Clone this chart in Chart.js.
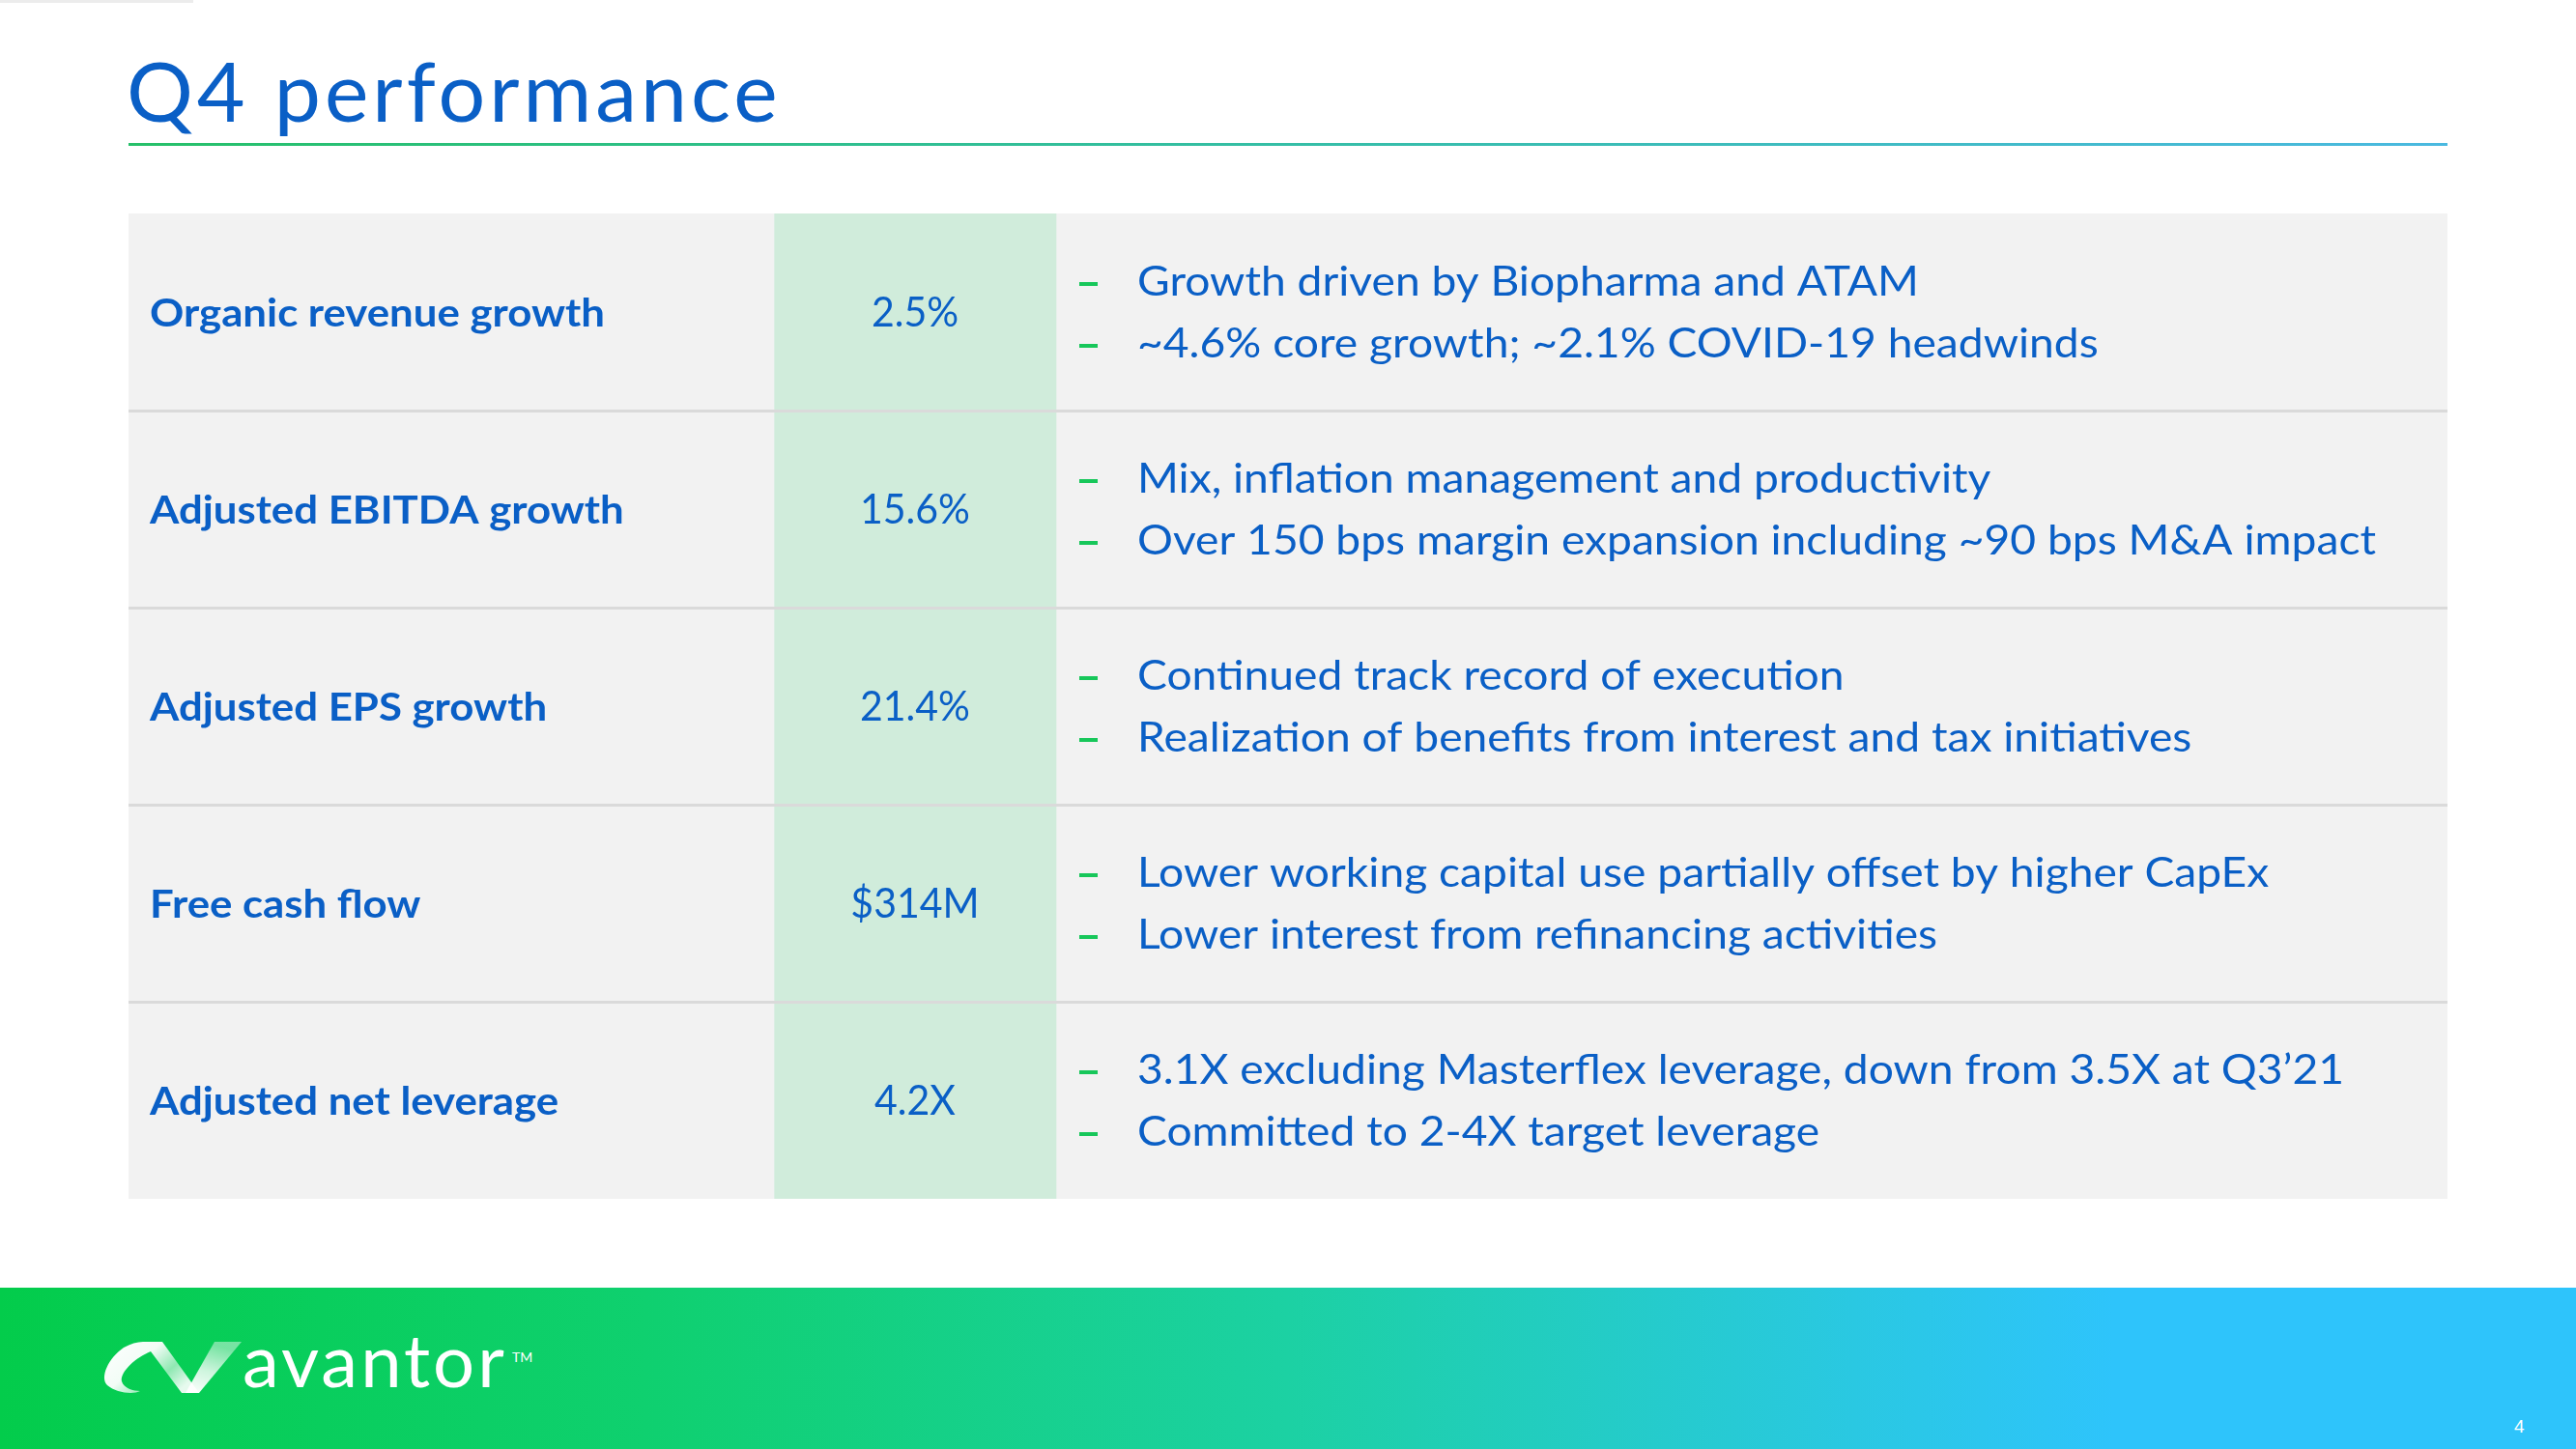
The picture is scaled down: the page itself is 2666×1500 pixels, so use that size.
<!DOCTYPE html>
<html>
<head>
<meta charset="utf-8">
<script src="https://cdn.jsdelivr.net/npm/chart.js@4.4.1/dist/chart.umd.min.js"></script>
<style>
  html, body { margin: 0; padding: 0; background: #fff; }
  body { width: 2666px; height: 1500px; position: relative; overflow: hidden; font-family: Lato, sans-serif; }
  .abs { position: absolute; }
  #topTick { left: 0; top: 0; width: 200px; height: 3px; background: #ececec; }
  #title { left: 131px; top: 50px; font-size: 86px; line-height: 1; color: #0a5fc6; white-space: nowrap; letter-spacing: 4px; }
  #titleRule { left: 133px; top: 148px; width: 2400px; height: 3px; background: linear-gradient(90deg, #26c069 0%, #35bea6 50%, #4ab9e0 100%); }
  #tableBox { left: 133px; top: 221px; width: 2400px; height: 1020px; }
  #footer { left: 0; top: 1333px; width: 2666px; height: 167px;
    background: linear-gradient(90deg, #03cc4b 0%, #0fd06f 25%, #1cd1a3 50%, #2ac8e2 72%, #2ec4fb 82%, #2ec4fb 100%); }
  #brand { left: 251px; top: 1369px; font-size: 76px; line-height: 1; color: #fff; white-space: nowrap; letter-spacing: 3px; }
  #tm { left: 530px; top: 1398px; font-size: 14px; line-height: 1; color: #fff; }
  #pageNo { left: 2602px; top: 1467px; font-family: "Liberation Sans", Arial, sans-serif; font-size: 19px; line-height: 1; color: #fff; }
</style>
</head>
<body>
<div id="topTick" class="abs"></div>
<div id="title" class="abs">Q4 performance</div>
<div id="titleRule" class="abs"></div>
<div id="tableBox" class="abs"><canvas id="perfTable"></canvas></div>

<div id="footer" class="abs"></div>
<svg class="abs" style="left:100px;top:1380px" width="160" height="70" viewBox="0 0 160 70">
  <defs>
    <linearGradient id="ribA" x1="0" y1="0" x2="1" y2="0.6">
      <stop offset="0" stop-color="#ffffff" stop-opacity="1"/>
      <stop offset="0.45" stop-color="#ffffff" stop-opacity="0.95"/>
      <stop offset="0.75" stop-color="#ffffff" stop-opacity="0.55"/>
      <stop offset="1" stop-color="#ffffff" stop-opacity="0.9"/>
    </linearGradient>
    <linearGradient id="ribB" x1="0" y1="1" x2="0.3" y2="0">
      <stop offset="0" stop-color="#ffffff" stop-opacity="1"/>
      <stop offset="0.5" stop-color="#ffffff" stop-opacity="0.8"/>
      <stop offset="1" stop-color="#ffffff" stop-opacity="0.45"/>
    </linearGradient>
  </defs>
  <path d="M 45 60 C 38 64 20 62 11 54 C 3 46 12 26 28 15 C 35 11 42 9 48 9 L 68 9 L 106 62 L 88 62 L 56 19 C 41 25 24 40 26 50 C 28 57 38 60 45 60 Z" fill="url(#ribA)"/>
  <path d="M 92 62 L 106 62 L 150 9 L 122 9 Z" fill="url(#ribB)"/>
</svg>
<div id="brand" class="abs">avantor</div>
<div id="tm" class="abs">TM</div>
<div id="pageNo" class="abs">4</div>

<script>
// table content, row by row
const metrics = [
  'Organic revenue growth',
  'Adjusted EBITDA growth',
  'Adjusted EPS growth',
  'Free cash flow',
  'Adjusted net leverage'
];
const results = ['2.5%', '15.6%', '21.4%', '$314M', '4.2X'];
const firstNotes = [
  'Growth driven by Biopharma and ATAM',
  'Mix, inflation management and productivity',
  'Continued track record of execution',
  'Lower working capital use partially offset by higher CapEx',
  '3.1X excluding Masterflex leverage, down from 3.5X at Q3\u201921'
];
const secondNotes = [
  '~4.6% core growth; ~2.1% COVID-19 headwinds',
  'Over 150 bps margin expansion including ~90 bps M&A impact',
  'Realization of benefits from interest and tax initiatives',
  'Lower interest from refinancing activities',
  'Committed to 2-4X target leverage'
];

// layout (table units = px across the 2400px wide table)
const tableWidth = 2400;
const labelColEnd = 668;
const valueColEnd = 960;
const BLUE = '#0a5fc6';
const DASH_GREEN = '#17c75a';

const span = (a, b) => metrics.map(() => [a, b]);

// horizontal squeeze so a reference string gets a given pixel width
function squeeze(ctx, font, text, target) {
  ctx.font = font;
  return target / ctx.measureText(text).width;
}

function drawText(ctx, text, x, y, sx) {
  ctx.save();
  ctx.translate(x, y);
  ctx.scale(sx, 1);
  ctx.fillText(text, 0, 0);
  ctx.restore();
}

const cellText = {
  id: 'cellText',
  afterDraw(chart) {
    const { ctx, scales: { x, y } } = chart;
    ctx.save();
    const labelFont = 'bold 41px Lato';
    const noteFont = 'normal 43px Lato';
    const valueFont = 'normal 43px Lato';
    const labelSx = squeeze(ctx, labelFont, 'Organic revenue growth', 471);
    const noteSx = squeeze(ctx, noteFont, secondNotes[1], 1282);
    const valueSx = squeeze(ctx, valueFont, '15.6%', 114);

    metrics.forEach((m, i) => {
      const cy = y.getPixelForValue(i);
      ctx.fillStyle = BLUE;
      ctx.textBaseline = 'alphabetic';

      ctx.textAlign = 'left';
      ctx.font = labelFont;
      drawText(ctx, m, x.getPixelForValue(22), cy + 15, labelSx);

      ctx.textAlign = 'center';
      ctx.font = valueFont;
      drawText(ctx, results[i], x.getPixelForValue((labelColEnd + valueColEnd) / 2), cy + 15, valueSx);

      ctx.textAlign = 'left';
      ctx.font = noteFont;
      [[firstNotes[i], cy - 17], [secondNotes[i], cy + 47]].forEach(([t, by]) => {
        ctx.fillStyle = DASH_GREEN;
        ctx.fillRect(x.getPixelForValue(984), by - 14, 19, 4);
        ctx.fillStyle = BLUE;
        drawText(ctx, t, x.getPixelForValue(1044), by, noteSx);
      });
    });
    ctx.restore();
  }
};

new Chart(document.getElementById('perfTable'), {
  type: 'bar',
  data: {
    labels: metrics,
    datasets: [
      { label: 'metric', data: span(0, labelColEnd), backgroundColor: '#f2f2f2' },
      { label: 'result', data: span(labelColEnd, valueColEnd), backgroundColor: '#d0ecdb' },
      { label: 'notes', data: span(valueColEnd, tableWidth), backgroundColor: '#f2f2f2' }
    ]
  },
  options: {
    indexAxis: 'y',
    responsive: true,
    maintainAspectRatio: false,
    animation: false,
    events: [],
    layout: { padding: 0 },
    datasets: {
      bar: { grouped: false, barPercentage: 1, categoryPercentage: 1, borderWidth: 0 }
    },
    plugins: { legend: { display: false }, tooltip: { enabled: false }, title: { display: false } },
    scales: {
      x: { display: false, min: 0, max: tableWidth },
      y: {
        ticks: { display: false },
        border: { display: false },
        grid: {
          z: 1,
          offset: true,
          drawTicks: false,
          tickLength: 0,
          lineWidth: 3,
          color: c => (c.index > 0 && c.index < metrics.length) ? '#dadada' : 'rgba(0,0,0,0)'
        },
        afterFit: s => { s.width = 0; }
      }
    }
  },
  plugins: [cellText]
});
</script>
</body>
</html>
